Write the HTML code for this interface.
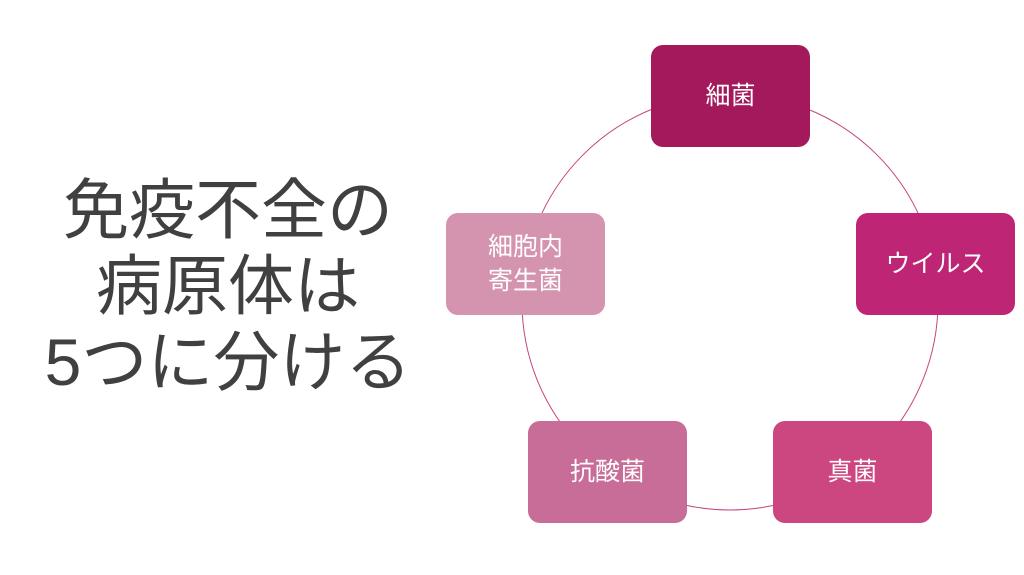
<!DOCTYPE html>
<html><head><meta charset="utf-8"><style>
body{margin:0;width:1024px;height:575px;background:#fff;position:relative;overflow:hidden;font-family:"Liberation Sans","Noto Sans CJK JP",sans-serif}
.t{position:absolute;left:0;width:456px;text-align:center;color:#404040;font-size:66px;line-height:76px;top:172px;font-family:"Liberation Sans","Noto Sans CJK JP",sans-serif}
.b{position:absolute;width:159px;height:102px;border-radius:12px;color:#fff;font-size:25px;display:flex;align-items:center;justify-content:center;text-align:center;line-height:34px}
</style></head><body>
<svg width="1024" height="575" style="position:absolute;left:0;top:0"><circle cx="730" cy="302" r="208" fill="none" stroke="#C5457F" stroke-width="1"/></svg>
<div class="t">免疫不全の<br>病原体は<br>5つに分ける</div>
<div class="b" style="left:651px;top:45px;background:#A3195B">細菌</div>
<div class="b" style="left:856px;top:213px;background:#BE2574">ウイルス</div>
<div class="b" style="left:773px;top:421px;background:#CC4680">真菌</div>
<div class="b" style="left:528px;top:421px;background:#C86D97">抗酸菌</div>
<div class="b" style="left:446px;top:213px;background:#D493AE">細胞内<br>寄生菌</div>
</body></html>
